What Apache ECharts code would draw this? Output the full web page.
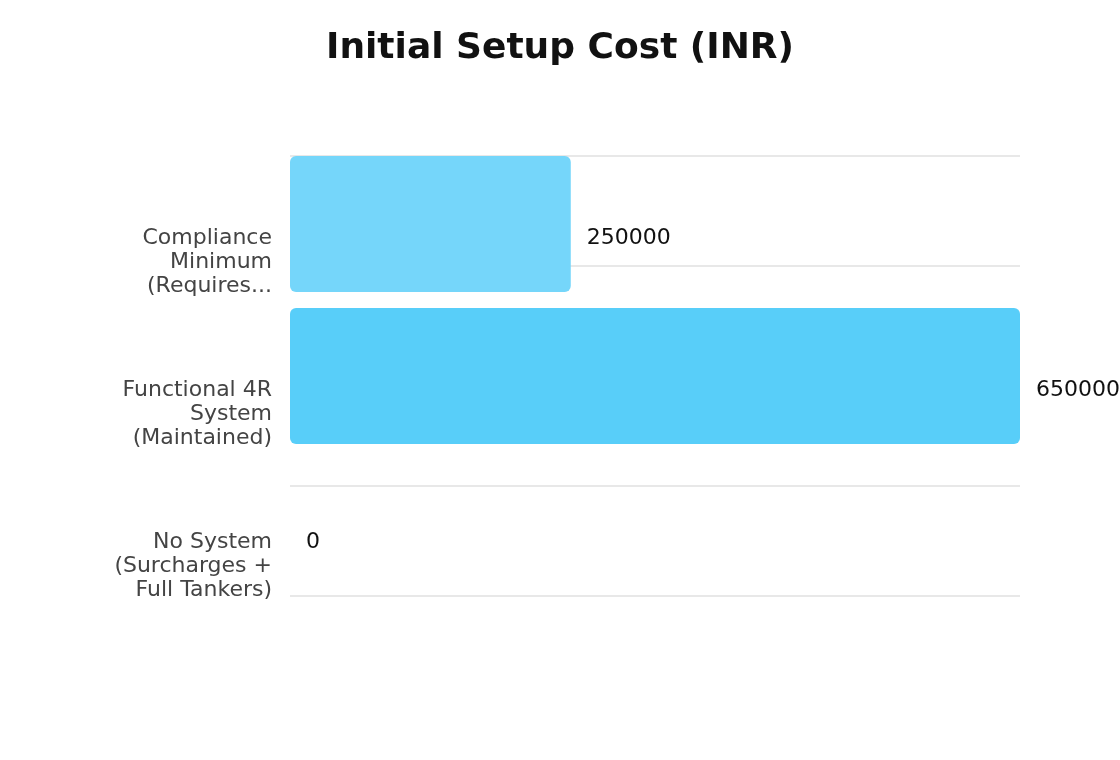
<!DOCTYPE html>
<html>
<head>
<meta charset="utf-8">
<script src="https://cdn.jsdelivr.net/npm/echarts@6/dist/echarts.min.js"></script>
<style>
  html, body { margin: 0; padding: 0; background: #ffffff; }
  #chart { width: 1120px; height: 760px; }
</style>
</head>
<body>
<div id="chart"></div>
<script>
const titleText = 'Initial Setup Cost (INR)';
const categories = [
  'Compliance\nMinimum\n(Requires...',
  'Functional 4R\nSystem\n(Maintained)',
  'No System\n(Surcharges +\nFull Tankers)'
];
const costValues = [250000, 650000, 0];
const guideTicks = [0, 1, 2, 3, 4];

const FONT = 'DejaVu Sans, sans-serif';
const barPalette = ['#75D6FA', '#58CEF9', '#58CEF9'];

const chart = echarts.init(document.getElementById('chart'));
chart.setOption({
  backgroundColor: '#ffffff',
  animation: false,
  title: {
    text: titleText,
    left: 'center',
    top: 31,
    padding: 0,
    textStyle: { fontFamily: FONT, fontSize: 36, fontWeight: 'bold', color: '#111111' }
  },
  grid: [
    { left: 290, right: 100, top: 148, bottom: 156 },
    { left: 290, right: 100, top: 156, bottom: 164 }
  ],
  xAxis: [
    { gridIndex: 0, type: 'value', min: 0, max: Math.max(...costValues), show: false },
    { gridIndex: 1, type: 'value', min: 0, max: 1, show: false }
  ],
  yAxis: [
    {
      gridIndex: 0,
      type: 'category',
      data: categories,
      inverse: true,
      axisLine: { show: false },
      axisTick: { show: false },
      splitLine: { show: false },
      axisLabel: {
        fontFamily: FONT,
        fontSize: 22,
        lineHeight: 24,
        color: '#444444',
        margin: 18,
        align: 'right',
        verticalAlign: 'top',
        padding: [2, 0, 0, 0]
      }
    },
    {
      gridIndex: 1,
      type: 'value',
      min: guideTicks[0],
      max: guideTicks[guideTicks.length - 1],
      interval: 1,
      axisLabel: { show: false },
      axisLine: { show: false },
      axisTick: { show: false },
      splitLine: { show: true, lineStyle: { color: '#e8e8e8', width: 2 } }
    }
  ],
  series: [
    {
      type: 'bar',
      xAxisIndex: 0,
      yAxisIndex: 0,
      data: costValues,
      barWidth: 136,
      itemStyle: {
        borderRadius: 6,
        color: function (p) { return barPalette[p.dataIndex]; }
      },
      label: {
        show: true,
        position: 'right',
        distance: 16,
        offset: [0, 14],
        fontFamily: FONT,
        fontSize: 22,
        color: '#111111'
      }
    }
  ]
});
</script>
</body>
</html>
